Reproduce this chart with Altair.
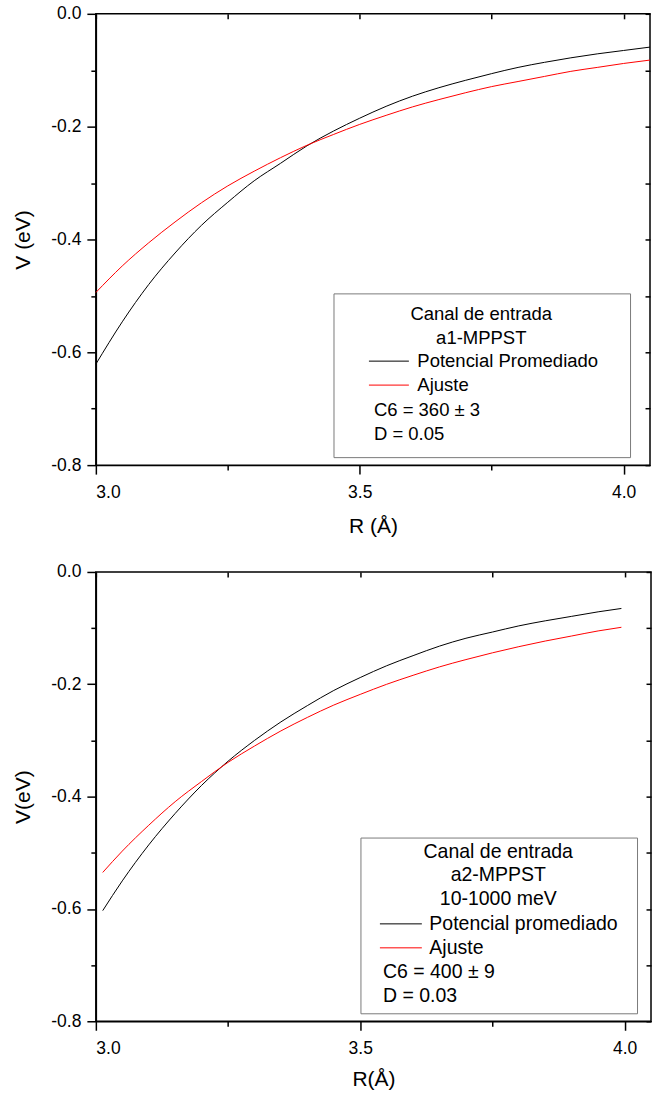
import json
import altair as alt
import pandas as pd

FONT = "Liberation Sans"
NBSP = "\u00a0"
EDGE = "\u2800"  # blank glyph that is not trimmed; keeps the inner no-break spaces

# ---------------- data ----------------
R_top = [3.00, 3.05, 3.10, 3.15, 3.20, 3.25, 3.30, 3.35, 3.40, 3.45, 3.50,
         3.55, 3.60, 3.65, 3.70, 3.75, 3.80, 3.85, 3.90, 3.95, 4.00, 4.05]
V_top_pot = [-0.621, -0.546, -0.480, -0.424, -0.375, -0.334, -0.296, -0.265,
             -0.234, -0.208, -0.185, -0.164, -0.146, -0.131, -0.118, -0.106,
             -0.095, -0.086, -0.078, -0.071, -0.065, -0.059]
V_top_aj = [-0.494, -0.447, -0.406, -0.369, -0.335, -0.305, -0.279, -0.255,
            -0.233, -0.214, -0.196, -0.180, -0.165, -0.152, -0.140, -0.129,
            -0.120, -0.111, -0.102, -0.095, -0.088, -0.082]

R_bot = [3.013, 3.05, 3.10, 3.15, 3.20, 3.25, 3.30, 3.35, 3.40, 3.45, 3.50,
         3.55, 3.60, 3.65, 3.70, 3.75, 3.80, 3.85, 3.90, 3.95, 3.994]
V_bot_pot = [-0.603, -0.550, -0.486, -0.430, -0.380, -0.337, -0.300, -0.267,
             -0.238, -0.211, -0.188, -0.167, -0.149, -0.132, -0.118, -0.107,
             -0.096, -0.087, -0.079, -0.071, -0.065]
V_bot_aj = [-0.535, -0.497, -0.451, -0.409, -0.373, -0.339, -0.310, -0.283,
            -0.259, -0.237, -0.218, -0.200, -0.184, -0.169, -0.156, -0.144,
            -0.133, -0.123, -0.114, -0.105, -0.0985]

series_top = ["Potencial Promediado", "Ajuste"]
notes_top = ["C6 = 360 \u00b1 3", "D = 0.05"]
title_top = ["Canal de entrada", "a1-MPPST"]

series_bot = ["Potencial promediado", "Ajuste"]
notes_bot = ["C6 = 400 \u00b1 9", "D = 0.03"]
title_bot = ["Canal de entrada", "a2-MPPST", "10-1000 meV"]

y_ticks = [-0.8, -0.7, -0.6, -0.5, -0.4, -0.3, -0.2, -0.1, 0.0]
x_ticks = [3.0, 3.25, 3.5, 3.75, 4.0]
x_domain = [3.0, 4.05]
y_domain = [-0.8, 0.0]
line_colors = ["black", "#ff0000"]

MAJ_Y = "abs(round(datum.value*10)) % 2 == 0"
MAJ_X = "round(datum.value*4) % 2 == 0"
FMT = "replace(format(datum.value, '.1f'), '\u2212', '-')"


def panel(R, v_pot, v_aj, series, notes, tlines, xtitle, ytitle, w, h, xtp, ytp, leg):
    n = len(R)
    df = pd.DataFrame({
        "R": list(R) * 2,
        "V": list(v_pot) + list(v_aj),
        "serie": [series[0]] * n + [series[1]] * n,
    })
    xs = alt.Scale(domain=x_domain, nice=False, zero=False)
    ys = alt.Scale(domain=y_domain, nice=False, zero=False)

    x_axis = alt.Axis(values=x_ticks, title=xtitle, grid=False,
                      labelExpr=f"{MAJ_X} ? {FMT} : ''",
                      tickSize={"condition": {"test": MAJ_X, "value": 9}, "value": 5},
                      labelPadding=9, titlePadding=xtp)
    y_axis = alt.Axis(values=y_ticks, title=ytitle, grid=False,
                      labelExpr=f"{MAJ_Y} ? {FMT} : ''",
                      tickSize={"condition": {"test": MAJ_Y, "value": 9}, "value": 5},
                      labelPadding=6, titlePadding=ytp)
    x_top = alt.Axis(orient="top", values=x_ticks, title=None, labels=False,
                     domain=False, grid=False, tickSize=5, offset=-5)
    y_right = alt.Axis(orient="right", values=y_ticks, title=None, labels=False,
                       domain=False, grid=False, tickSize=5, offset=-5)

    fs = leg["fs"]
    pitch = leg["pitch"]
    side = EDGE + NBSP * leg["k"]
    # first title line is widened with blank space so the box gets its width
    lines_t = [side + tlines[0] + side[::-1]] + list(tlines[1:])
    label_expr = (f"indexof({json.dumps(notes, ensure_ascii=False)}, datum.label) >= 0"
                  f" ? '{NBSP}' : datum.label")
    legA = alt.Legend(
        title=lines_t, orient="none", legendX=leg["x"], legendY=leg["y"],
        titleAnchor="middle", titleAlign="center", titleBaseline="top",
        titleFont=FONT, titleFontSize=fs, titleFontWeight="normal",
        titleColor="black", titleLineHeight=pitch, titleLimit=1000,
        titlePadding=pitch / 2 - fs / 2,
        labelFont=FONT, labelFontSize=fs, labelColor="black",
        labelLimit=500, labelOffset=leg["gap"], labelExpr=label_expr,
        symbolType="stroke", symbolSize=leg["sym"] ** 2, symbolStrokeWidth=1,
        symbolOffset=leg["soff"], rowPadding=0, clipHeight=pitch,
        padding=leg["pad"], strokeColor="#7a7a7a", fillColor="white", zindex=1,
    )
    legB = alt.Legend(
        title=None, orient="none", legendX=leg["bx"], legendY=leg["by"],
        labelFont=FONT, labelFontSize=fs, labelColor="black",
        labelLimit=500, labelOffset=0, symbolSize=0, symbolOpacity=0,
        symbolStrokeWidth=0, rowPadding=0, clipHeight=pitch, padding=0, zindex=2,
    )

    lines = alt.Chart(df).mark_line(strokeWidth=1, interpolate="monotone").encode(
        x=alt.X("R:Q", scale=xs, axis=x_axis),
        y=alt.Y("V:Q", scale=ys, axis=y_axis),
        color=alt.Color("serie:N",
                        scale=alt.Scale(domain=series + notes,
                                        range=line_colors + ["transparent", "transparent"]),
                        legend=legA),
    )
    mirror = alt.Chart(df).mark_line(opacity=0).encode(
        x=alt.X("R:Q", scale=xs, axis=x_top),
        y=alt.Y("V:Q", scale=ys, axis=y_right),
        detail="serie:N",
    )
    notes_layer = alt.Chart(pd.DataFrame({"nota": notes})).mark_point(opacity=0).encode(
        shape=alt.Shape("nota:N", scale=alt.Scale(domain=notes), legend=legB),
    )
    return (alt.layer(lines, mirror, notes_layer)
            .resolve_axis(x="independent", y="independent")
            .properties(width=w, height=h))


top = panel(R_top, V_top_pot, V_top_aj, series_top, notes_top, title_top,
            "R (\u00c5)", "V (eV)", 555, 452, 15, 17,
            dict(x=238, y=280, pad=12, soff=3, k=10, fs=18.5, pitch=23.3,
                 sym=40, gap=8, bx=260, by=385))
bot = panel(R_bot, V_bot_pot, V_bot_aj, series_bot, notes_bot, title_bot,
            "R(\u00c5)", "V(eV)", 556, 450, 12, 17,
            dict(x=265, y=266, pad=5, soff=1, k=8, fs=19.5, pitch=23.9,
                 sym=42, gap=7, bx=268, by=389))

chart = (alt.vconcat(top, bot, spacing=24)
         .resolve_scale(x="independent", y="independent",
                        color="independent", shape="independent")
         .resolve_legend(color="independent", shape="independent")
         .resolve_axis(x="independent", y="independent")
         .properties(padding={"left": 12, "top": 3, "right": 2, "bottom": 2},
                     background="white")
         .configure_view(stroke="black", strokeWidth=1.5)
         .configure_axis(labelFont=FONT, labelFontSize=17.5, labelColor="black",
                         titleFont=FONT, titleFontSize=21, titleFontWeight="normal",
                         titleColor="black", domainColor="black", domainWidth=1.5,
                         tickColor="black", tickWidth=1.5))

chart.save("out.html", embed_options={"renderer": "svg", "actions": False})
